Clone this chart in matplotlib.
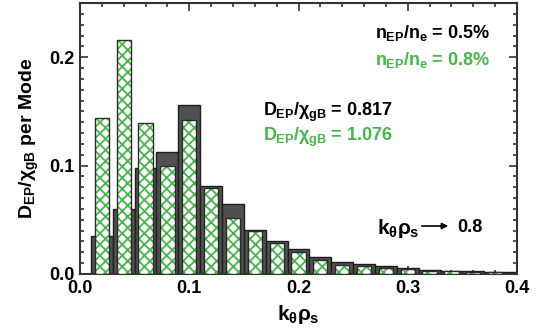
import numpy as np
import matplotlib
matplotlib.use("Agg")
import matplotlib.pyplot as plt
from matplotlib.ticker import MultipleLocator

# k_theta rho_s of each mode
k_theta = [0.02, 0.04, 0.06, 0.08, 0.10, 0.12, 0.14, 0.16, 0.18, 0.20,
           0.22, 0.24, 0.26, 0.28, 0.30, 0.32, 0.34, 0.36, 0.38, 0.40]
# D_EP/chi_gB per mode, n_EP/n_e = 0.5 %
d_low = [0.035, 0.060, 0.098, 0.113, 0.156, 0.081, 0.065, 0.041, 0.030, 0.023,
         0.016, 0.0115, 0.009, 0.007, 0.0052, 0.004, 0.0032, 0.0025, 0.002, 0.0015]
# D_EP/chi_gB per mode, n_EP/n_e = 0.8 %
d_high = [0.144, 0.216, 0.139, 0.0995, 0.142, 0.0796, 0.052, 0.0396, 0.029, 0.020,
          0.013, 0.0083, 0.0074, 0.0052, 0.0043, 0.003, 0.0025, 0.002, 0.0015, 0.001]

GREEN = "#45b649"
FONT = "Liberation Sans"

plt.rcParams["font.family"] = FONT
plt.rcParams["font.weight"] = "bold"
plt.rcParams["mathtext.fontset"] = "custom"
plt.rcParams["mathtext.rm"] = FONT + ":bold"
plt.rcParams["mathtext.it"] = FONT + ":bold"
plt.rcParams["mathtext.bf"] = FONT + ":bold"
plt.rcParams["mathtext.sf"] = FONT + ":bold"
plt.rcParams["hatch.linewidth"] = 1.3

fig = plt.figure(figsize=(5.4, 3.33), dpi=100)
ax = fig.add_axes([80 / 540, 59 / 333, 437 / 540, 271 / 333])

# wide dark bars (0.5 %)
ax.bar(k_theta, d_low, width=0.02, color="#505050", edgecolor="#1e1e1e",
       linewidth=1.0, zorder=2)
# narrow hatched bars (0.8 %): hatch layer then outline
ax.bar(k_theta, d_high, width=0.013, color="white", edgecolor=GREEN,
       hatch="xxx", linewidth=0, zorder=3)
ax.bar(k_theta, d_high, width=0.013, fill=False, edgecolor="#2a2a2a",
       linewidth=1.0, zorder=4)

ax.set_xlim(0, 0.4)
ax.set_ylim(0, 0.25)
ax.xaxis.set_major_locator(MultipleLocator(0.1))
ax.xaxis.set_minor_locator(MultipleLocator(0.02))
ax.yaxis.set_major_locator(MultipleLocator(0.1))
ax.yaxis.set_minor_locator(MultipleLocator(0.01))
ax.xaxis.set_major_formatter(plt.FormatStrFormatter("%.1f"))
ax.yaxis.set_major_formatter(plt.FormatStrFormatter("%.1f"))
ax.tick_params(which="both", direction="in", top=True, right=True,
               width=1.2, color="#333333", labelsize=13)
ax.tick_params(which="major", length=6, pad=4)
ax.tick_params(which="minor", length=3)
for s in ax.spines.values():
    s.set_linewidth(1.5)
    s.set_color("#333333")

ax.set_xlabel(r"$k_\theta\rho_s$", fontsize=15, fontweight="bold", labelpad=5)
ax.set_ylabel(r"$D_{EP}/\chi_{gB}$ per Mode", fontsize=14, fontweight="bold",
              labelpad=6)

def ftext(x, y, s, size=13, **kw):
    fig.text(x / 540, 1 - y / 333, s, fontsize=size, fontweight="bold",
             va="center", **kw)

ftext(490, 33, r"$n_{EP}/n_e$ = 0.5%", ha="right", color="black")
ftext(490, 60, r"$n_{EP}/n_e$ = 0.8%", ha="right", color=GREEN)
ftext(263, 112, r"$D_{EP}/\chi_{gB}$ = 0.817", ha="left", color="black")
ftext(263, 137, r"$D_{EP}/\chi_{gB}$ = 1.076", ha="left", color=GREEN)
ftext(377, 228, r"$k_\theta\rho_s$", size=15, ha="left", color="black")
ftext(457, 227, "0.8", ha="left", color="black")
fig.add_artist(matplotlib.patches.FancyArrowPatch(
    (419 / 540, 1 - 226 / 333), (451 / 540, 1 - 226 / 333),
    transform=fig.transFigure, arrowstyle="-|>", mutation_scale=9,
    linewidth=1.2, color="black"))

fig.savefig("out.png", dpi=100)
